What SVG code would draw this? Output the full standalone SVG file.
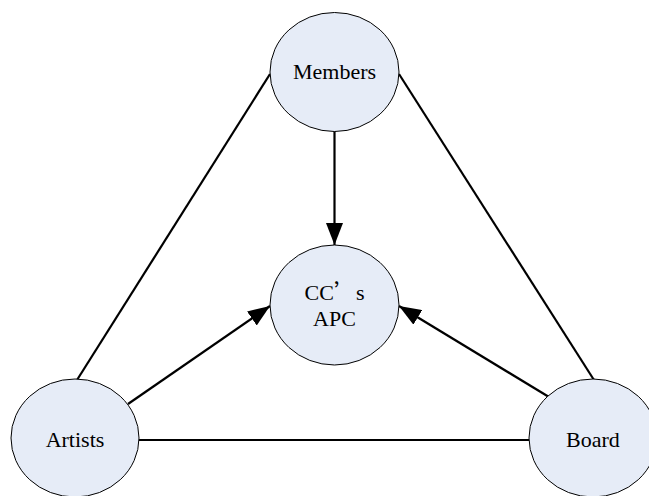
<svg xmlns="http://www.w3.org/2000/svg" width="649" height="496" viewBox="0 0 649 496">
<defs>
<style>
.node{fill:#e6ecf7;stroke:#000;stroke-width:1}
.lbl{font-family:"Liberation Serif","Noto Sans CJK SC",serif;font-size:22px;fill:#000;text-anchor:middle}
.cjk{font-family:"Noto Sans CJK SC","Liberation Serif",serif}
.edge{stroke:#000;stroke-width:2.2;fill:none}
</style>
<marker id="ah" markerWidth="24" markerHeight="17" refX="22" refY="8.5" orient="auto" markerUnits="userSpaceOnUse">
<path d="M0,0 L22,8.5 L0,17 Z" fill="#000"/>
</marker>
</defs>
<rect width="649" height="496" fill="#fff"/>
<g id="connectors">
<line class="edge" x1="270" y1="74" x2="77" y2="380"/>
<line class="edge" x1="399" y1="74" x2="594" y2="380"/>
<line class="edge" x1="139" y1="440" x2="529" y2="440"/>
<line class="edge" x1="334.5" y1="131" x2="334.5" y2="245" marker-end="url(#ah)"/>
<line class="edge" x1="128" y1="404" x2="270" y2="306" marker-end="url(#ah)"/>
<line class="edge" x1="549" y1="397" x2="399" y2="306" marker-end="url(#ah)"/>
</g>
<g id="members">
<ellipse class="node" cx="334.5" cy="72" rx="64.5" ry="59.5"/>
<text class="lbl" x="334.5" y="79">Members</text>
</g>
<g id="ccapc">
<ellipse class="node" cx="334.5" cy="305" rx="64.5" ry="60"/>
<text class="lbl" x="334.5" y="300">CC<tspan class="cjk">’</tspan>s</text>
<text class="lbl" x="334.5" y="326">APC</text>
</g>
<g id="artists">
<ellipse class="node" cx="75" cy="438" rx="64" ry="59"/>
<text class="lbl" x="75" y="447">Artists</text>
</g>
<g id="board">
<ellipse class="node" cx="593" cy="438" rx="64" ry="59"/>
<text class="lbl" x="593" y="447">Board</text>
</g>
</svg>
